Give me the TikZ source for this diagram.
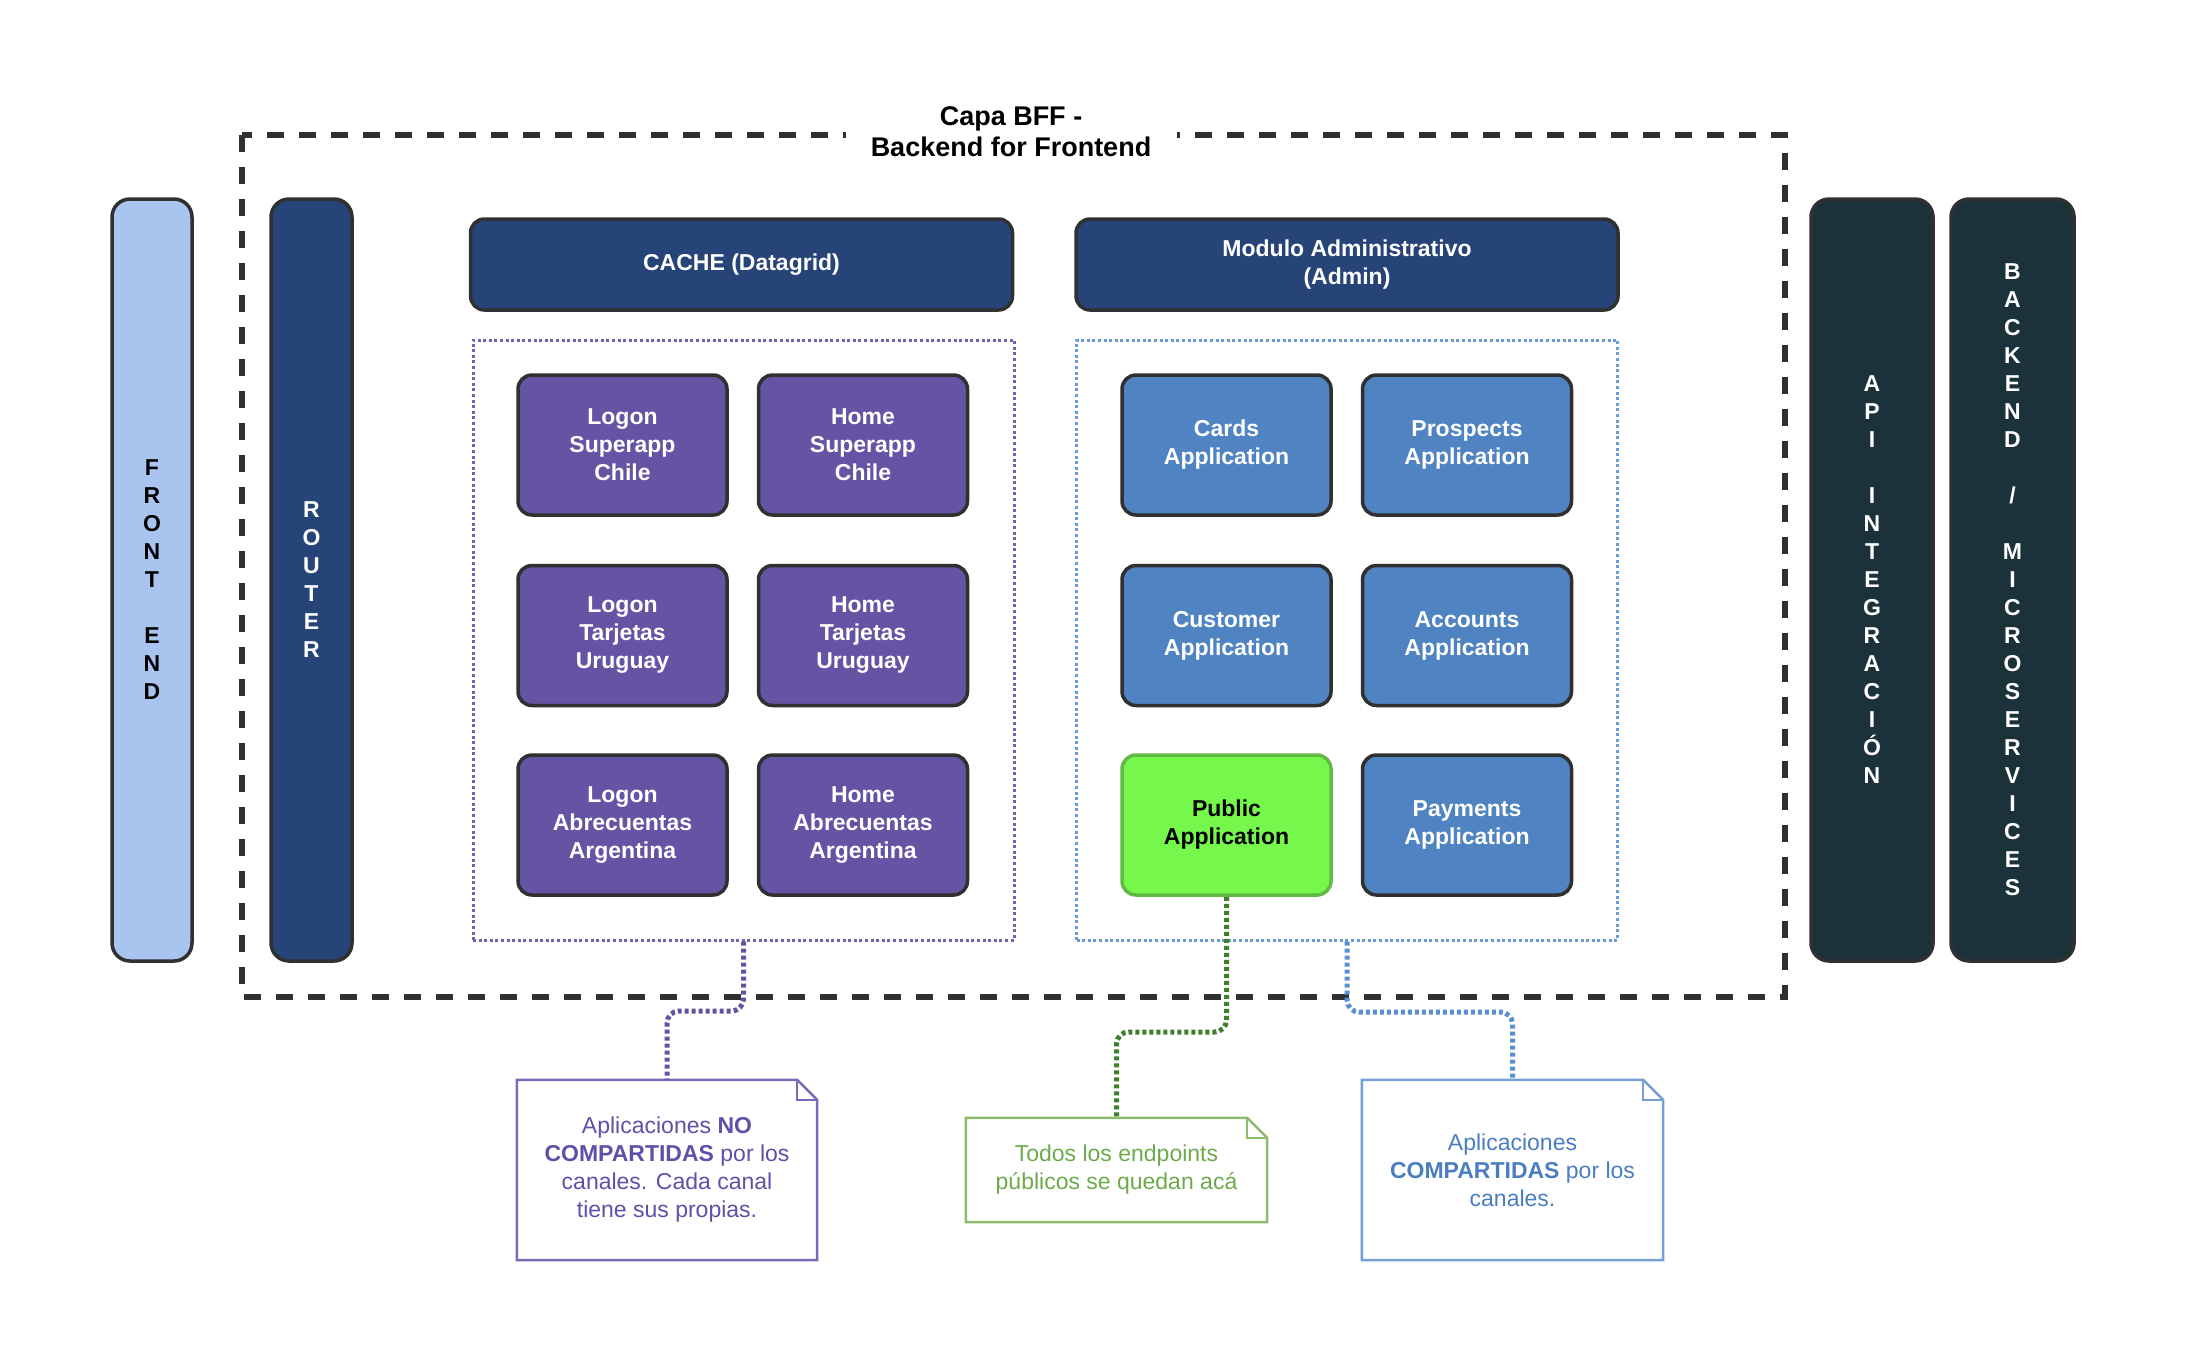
\documentclass[tikz,border=0pt]{standalone}
\usepackage{fontspec}
\setmainfont{Liberation Sans}
\usetikzlibrary{calc}
\definecolor{frontC}{HTML}{A9C4EE}
\definecolor{navyC}{HTML}{264478}
\definecolor{purpC}{HTML}{6553A3}
\definecolor{blueC}{HTML}{4F83C1}
\definecolor{greenC}{HTML}{76F74B}
\definecolor{greenB}{HTML}{62B944}
\definecolor{tealC}{HTML}{1C323B}
\definecolor{lineC}{HTML}{303030}
\definecolor{purpDot}{HTML}{7262B2}
\definecolor{blueDot}{HTML}{6A9BD8}
\definecolor{purpNote}{HTML}{7A6AB8}
\definecolor{greenNote}{HTML}{8CBA6E}
\definecolor{blueNote}{HTML}{74A0D6}
\definecolor{purpText}{HTML}{6050A8}
\definecolor{greenText}{HTML}{6CAA4C}
\definecolor{blueText}{HTML}{4A7EC0}
\definecolor{purpLink}{HTML}{6452A3}
\definecolor{greenLink}{HTML}{3F7F2A}
\definecolor{blueLink}{HTML}{5B8FD3}
\newcommand\boxfont{\bfseries\fontsize{23}{28}\selectfont}
\newcommand\notefont{\fontsize{23}{28}\selectfont}
\newcommand\titlefont{\bfseries\fontsize{27}{31}\selectfont}
\tikzset{
  bx/.style={rounded corners=14pt, line width=3.5pt, draw=lineC, inner sep=0pt,
    align=center, font=\boxfont, text=white},
  appbox/.style={bx, minimum width=209pt, minimum height=140pt},
  purpbox/.style={appbox, fill=purpC},
  bluebox/.style={appbox, fill=blueC},
  headbox/.style={bx, fill=navyC, minimum width=542pt, minimum height=91pt},
  bar/.style={bx, rounded corners=18pt, minimum height=762pt},
  container/.style={draw, line width=3pt, dash pattern=on 3pt off 2.6pt, inner sep=0pt,
    minimum width=541pt, minimum height=600pt},
  notebox/.style={inner sep=0pt, align=center, font=\notefont, minimum width=300pt},
  noteline/.style={line width=2.5pt, line join=miter},
  link/.style={line width=5pt, dash pattern=on 4pt off 3pt, rounded corners=12pt},
}
\begin{document}
\begin{tikzpicture}[x=1pt,y=-1pt]
\useasboundingbox (0,0) rectangle (2202,1350);
\fill[white] (0,0) rectangle (2202,1350);

% outer dashed frame
\draw[lineC, line width=6.5pt, dash pattern=on 17pt off 15pt] (242,135) rectangle (1785,997);
\node[fill=white, minimum width=331pt, minimum height=62pt, inner sep=0pt, align=center,
      font=\titlefont] (title) at (1011,132) {Capa BFF -\\Backend for Frontend};

% side bars
\node[bar, fill=frontC, text=black, minimum width=80pt] (front) at (152,580)
  {F\\R\\O\\N\\T\\\mbox{}\\E\\N\\D};
\node[bar, fill=navyC, minimum width=81pt] (router) at (311.5,580)
  {R\\O\\U\\T\\E\\R};
\node[bar, fill=tealC, minimum width=122pt] (api) at (1872,580)
  {A\\P\\I\\\mbox{}\\I\\N\\T\\E\\G\\R\\A\\C\\I\\Ó\\N};
\node[bar, fill=tealC, minimum width=123pt] (backend) at (2012.5,580)
  {B\\A\\C\\K\\E\\N\\D\\\mbox{}\\/\\\mbox{}\\M\\I\\C\\R\\O\\S\\E\\R\\V\\I\\C\\E\\S};

% headers
\node[headbox] (cache) at (741.5,264.5) {CACHE (Datagrid)};
\node[headbox] (admin) at (1347,264.5) {Modulo Administrativo\\(Admin)};

% containers
\node[container, draw=purpDot] (pgroup) at (743.5,640) {};
\node[container, draw=blueDot] (bgroup) at (1347,640) {};

% purple apps
\node[purpbox] (lsc) at (622.5,445) {Logon\\Superapp\\Chile};
\node[purpbox] (hsc) at (863,445) {Home\\Superapp\\Chile};
\node[purpbox] (ltu) at (622.5,635.5) {Logon\\Tarjetas\\Uruguay};
\node[purpbox] (htu) at (863,635.5) {Home\\Tarjetas\\Uruguay};
\node[purpbox] (laa) at (622.5,825) {Logon\\Abrecuentas\\Argentina};
\node[purpbox] (haa) at (863,825) {Home\\Abrecuentas\\Argentina};

% blue apps
\node[bluebox] (cards) at (1226.5,445) {Cards\\Application};
\node[bluebox] (prosp) at (1467,445) {Prospects\\Application};
\node[bluebox] (cust) at (1226.5,635.5) {Customer\\Application};
\node[bluebox] (acc) at (1467,635.5) {Accounts\\Application};
\node[appbox, fill=greenC, draw=greenB, text=black] (public) at (1226.5,825) {Public\\Application};
\node[bluebox] (pay) at (1467,825) {Payments\\Application};

% notes
\node[notebox, text=purpText, minimum height=180pt] (n1) at (667,1170)
  {Aplicaciones \textbf{NO}\\\textbf{COMPARTIDAS} por los\\canales. Cada canal\\tiene sus propias.};
\node[notebox, text=greenText, minimum height=104pt, minimum width=301pt] (n2) at (1116.5,1170)
  {Todos los endpoints\\públicos se quedan acá};
\node[notebox, text=blueText, minimum height=180pt, minimum width=301pt] (n3) at (1512.5,1170)
  {Aplicaciones\\\textbf{COMPARTIDAS} por los\\canales.};

\foreach \n/\c in {n1/purpNote, n2/greenNote, n3/blueNote}{
  \draw[noteline, \c] (\n.north west) -- ($(\n.north east)+(-20,0)$) -- ($(\n.north east)+(0,20)$)
     -- (\n.south east) -- (\n.south west) -- cycle;
  \draw[noteline, \c] ($(\n.north east)+(-20,0)$) -- ($(\n.north east)+(-20,20)$) -- ($(\n.north east)+(0,20)$);
}

% connectors
\draw[link, purpLink] (pgroup.south) -- (pgroup.south |- 0,1011) -| (n1.north);
\draw[link, greenLink] (public.south) -- (public.south |- 0,1032) -| (n2.north);
\draw[link, blueLink] (bgroup.south) -- (bgroup.south |- 0,1012) -| (n3.north);
\end{tikzpicture}
\end{document}
